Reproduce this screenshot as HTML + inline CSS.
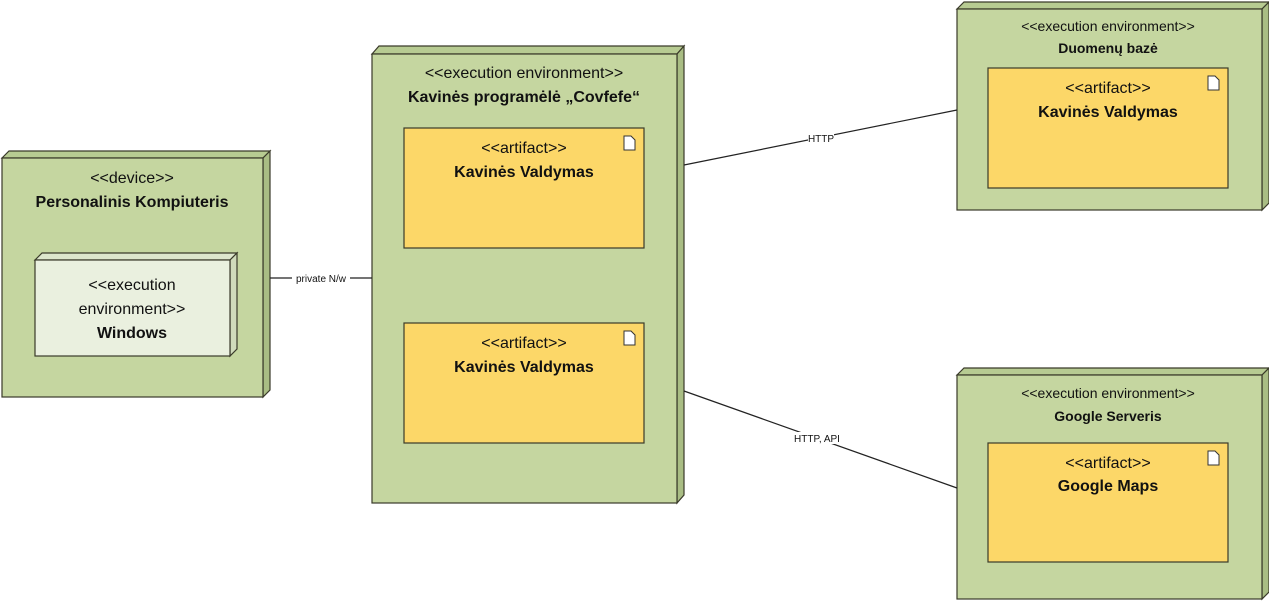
<!DOCTYPE html>
<html><head><meta charset="utf-8"><style>
html,body{margin:0;padding:0;background:#fff;width:1269px;height:601px;overflow:hidden}
svg text{font-family:"Liberation Sans",sans-serif;fill:#111}
.s{font-size:16px}
.b{font-size:16px;font-weight:bold}
.s2{font-size:14px}
.b2{font-size:14px;font-weight:bold}
.l{font-size:10px}
</style></head><body>
<svg width="1269" height="601" viewBox="0 0 1269 601" xmlns="http://www.w3.org/2000/svg">
<g stroke="#3a3a2a" stroke-width="1.2">
<polygon points="2,158 9,151 270,151 263,158" fill="#b7cb92"/>
<polygon points="263,158 270,151 270,390 263,397" fill="#a9bd84"/>
<rect x="2" y="158" width="261" height="239" fill="#c5d6a0"/>
<polygon points="35,260 42,253 237,253 230,260" fill="#dde6cc"/>
<polygon points="230,260 237,253 237,349 230,356" fill="#d0dbbb"/>
<rect x="35" y="260" width="195" height="96" fill="#eaf0df"/>
<polygon points="372,54 379,46 684,46 677,54" fill="#b7cb92"/>
<polygon points="677,54 684,46 684,495 677,503" fill="#a9bd84"/>
<rect x="372" y="54" width="305" height="449" fill="#c5d6a0"/>
<rect x="404" y="128" width="240" height="120" fill="#fcd768"/>
<rect x="404" y="323" width="240" height="120" fill="#fcd768"/>
<polygon points="957,9 964,2 1269,2 1262,9" fill="#b7cb92"/>
<polygon points="1262,9 1269,2 1269,203 1262,210" fill="#a9bd84"/>
<rect x="957" y="9" width="305" height="201" fill="#c5d6a0"/>
<rect x="988" y="68" width="240" height="120" fill="#fcd768"/>
<polygon points="957,375 964,368 1269,368 1262,375" fill="#b7cb92"/>
<polygon points="1262,375 1269,368 1269,592 1262,599" fill="#a9bd84"/>
<rect x="957" y="375" width="305" height="224" fill="#c5d6a0"/>
<rect x="988" y="443" width="240" height="119" fill="#fcd768"/>
</g>
<g fill="#fff" stroke="#333" stroke-width="1">
<path d="M624,136 h7 l4,4 v10 h-11 z"/>
<path d="M624,331 h7 l4,4 v10 h-11 z"/>
<path d="M1208,76 h7 l4,4 v10 h-11 z"/>
<path d="M1208,451 h7 l4,4 v10 h-11 z"/>
</g>
<g stroke="#222" stroke-width="1.2">
<line x1="270" y1="278" x2="372" y2="278"/>
<line x1="684" y1="165" x2="957" y2="110"/>
<line x1="684" y1="391" x2="957" y2="488"/>
</g>
<rect x="292" y="271" width="58" height="14" fill="#fff"/>
<text class="l" x="321" y="282" text-anchor="middle">private N/w</text>
<rect x="808" y="132" width="26" height="12" fill="#fff"/>
<text class="l" x="821" y="142" text-anchor="middle">HTTP</text>
<rect x="796" y="432" width="42" height="12" fill="#fff"/>
<text class="l" x="817" y="442" text-anchor="middle">HTTP, API</text>
<text class="s" x="132" y="183" text-anchor="middle">&lt;&lt;device&gt;&gt;</text>
<text class="b" x="132" y="207" text-anchor="middle">Personalinis Kompiuteris</text>
<text class="s" x="132" y="290" text-anchor="middle">&lt;&lt;execution</text>
<text class="s" x="132" y="314" text-anchor="middle">environment&gt;&gt;</text>
<text class="b" x="132" y="338" text-anchor="middle">Windows</text>
<text class="s" x="524" y="78" text-anchor="middle">&lt;&lt;execution environment&gt;&gt;</text>
<text class="b" x="524" y="102" text-anchor="middle">Kavinės programėlė „Covfefe“</text>
<text class="s" x="524" y="153" text-anchor="middle">&lt;&lt;artifact&gt;&gt;</text>
<text class="b" x="524" y="177" text-anchor="middle">Kavinės Valdymas</text>
<text class="s" x="524" y="348" text-anchor="middle">&lt;&lt;artifact&gt;&gt;</text>
<text class="b" x="524" y="372" text-anchor="middle">Kavinės Valdymas</text>
<text class="s2" x="1108" y="31" text-anchor="middle">&lt;&lt;execution environment&gt;&gt;</text>
<text class="b2" x="1108" y="53" text-anchor="middle">Duomenų bazė</text>
<text class="s" x="1108" y="93" text-anchor="middle">&lt;&lt;artifact&gt;&gt;</text>
<text class="b" x="1108" y="117" text-anchor="middle">Kavinės Valdymas</text>
<text class="s2" x="1108" y="398" text-anchor="middle">&lt;&lt;execution environment&gt;&gt;</text>
<text class="b2" x="1108" y="421" text-anchor="middle">Google Serveris</text>
<text class="s" x="1108" y="468" text-anchor="middle">&lt;&lt;artifact&gt;&gt;</text>
<text class="b" x="1108" y="491" text-anchor="middle">Google Maps</text>
</svg>
</body></html>
